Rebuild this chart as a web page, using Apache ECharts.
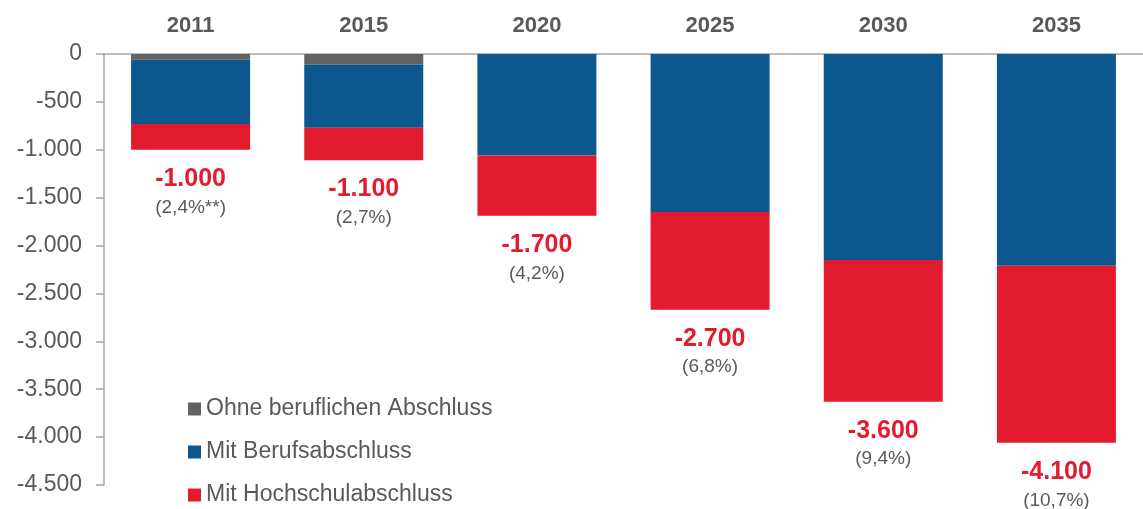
<!DOCTYPE html>
<html>
<head>
<meta charset="utf-8">
<script src="https://cdn.jsdelivr.net/npm/echarts@6/dist/echarts.min.js"></script>
<style>html,body{margin:0;padding:0;background:#fff}#c{width:1143px;height:509px}</style>
</head>
<body>
<div id="c"></div>
<script>
var years = ['2011', '2015', '2020', '2025', '2030', '2035'];
var ohne = [-60, -110, 0, 0, 0, 0];
var beruf = [-670, -660, -1060, -1650, -2150, -2210];
var hochschul = [-270, -340, -630, -1020, -1480, -1850];
var totalLabels = ['-1.000', '-1.100', '-1.700', '-2.700', '-3.600', '-4.100'];
var shareLabels = ['(2,4%**)', '(2,7%)', '(4,2%)', '(6,8%)', '(9,4%)', '(10,7%)'];
var seriesNames = ['Ohne beruflichen Abschluss', 'Mit Berufsabschluss', 'Mit Hochschulabschluss'];

function fmt(v) {
  var s = String(Math.abs(v));
  s = s.replace(/\B(?=(\d{3})+(?!\d))/g, '.');
  return (v < 0 ? '-' : '') + s;
}

var chart = echarts.init(document.getElementById('c'));
var font = 'Liberation Sans, Arial, sans-serif';
chart.setOption({
  animation: false,
  textStyle: { fontFamily: font },
  grid: { left: 104, top: 54, width: 1050, height: 431 },
  legend: {
    orient: 'vertical',
    left: 188,
    top: 397,
    padding: 0,
    icon: 'rect',
    itemWidth: 13,
    itemHeight: 13,
    itemGap: 19,
    textStyle: { fontSize: 23, color: '#595959', fontFamily: font, lineHeight: 24 },
    data: seriesNames
  },
  xAxis: {
    type: 'category',
    position: 'top',
    data: years,
    axisLine: { lineStyle: { color: '#a6a6a6', width: 1.5 } },
    axisTick: { show: false },
    axisLabel: { fontSize: 22, fontWeight: 'bold', color: '#595959', margin: 17, fontFamily: font }
  },
  yAxis: {
    type: 'value',
    min: -4500,
    max: 0,
    interval: 500,
    splitLine: { show: false },
    axisLine: { show: true, lineStyle: { color: '#a6a6a6', width: 1.5 } },
    axisTick: { show: true, length: 8, lineStyle: { color: '#a6a6a6', width: 1.5 } },
    axisLabel: { fontSize: 23, color: '#595959', margin: 22, formatter: fmt, fontFamily: font }
  },
  series: [
    { name: seriesNames[0], type: 'bar', stack: 'a', data: ohne, barWidth: 119, itemStyle: { color: '#626262' } },
    { name: seriesNames[1], type: 'bar', stack: 'a', data: beruf, barWidth: 119, itemStyle: { color: '#0c578e' } },
    { name: seriesNames[2], type: 'bar', stack: 'a', data: hochschul, barWidth: 119, itemStyle: { color: '#e31b2f' },
      label: {
        show: true,
        position: 'bottom',
        distance: 15,
        formatter: function (p) { return '{a|' + totalLabels[p.dataIndex] + '}\n{b|' + shareLabels[p.dataIndex] + '}'; },
        rich: {
          a: { fontSize: 25, fontWeight: 'bold', color: '#e31b2f', lineHeight: 28, fontFamily: font },
          b: { fontSize: 19, color: '#595959', lineHeight: 29, fontFamily: font }
        }
      }
    }
  ]
});
</script>
</body>
</html>
